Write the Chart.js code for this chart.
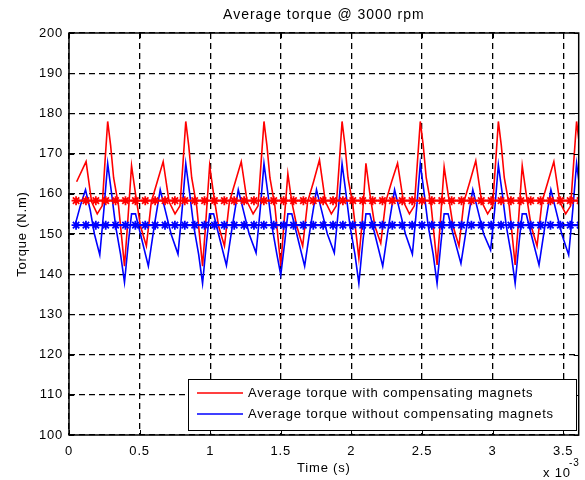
<!DOCTYPE html>
<html lang="en">
<head>
<meta charset="UTF-8">
<title>Average torque @ 3000 rpm</title>
<script src="https://cdn.jsdelivr.net/npm/chart.js"></script>
<style>
  body { margin: 0; background: #fff; }
  canvas { display: block; }
</style>
</head>
<body>
<canvas id="myChart" width="585" height="480"></canvas>
<script>
// time is in ms here, the axis shows it as "x 10^-3" s like the original
const xTicks = [0, 0.5, 1, 1.5, 2, 2.5, 3, 3.5];
const yTicks = [100, 110, 120, 130, 140, 150, 160, 170, 180, 190, 200];
const X_MAX = 3.61;

// torque with compensating magnets (red)
const redT = [0.054, 0.121, 0.160, 0.200, 0.235, 0.255,
  0.274, 0.295, 0.316, 0.351, 0.393, 0.414, 0.443, 0.471, 0.506, 0.548, 0.583, 0.625, 0.667, 0.709, 0.751, 0.786, 0.808,
  0.827, 0.848, 0.869, 0.904, 0.946, 0.967, 0.996, 1.024, 1.059, 1.101, 1.136, 1.178, 1.220, 1.262, 1.304, 1.339, 1.361,
  1.381, 1.402, 1.423, 1.458, 1.500, 1.521, 1.550, 1.578, 1.613, 1.655, 1.690, 1.732, 1.774, 1.816, 1.858, 1.893, 1.915,
  1.934, 1.955, 1.976, 2.011, 2.053, 2.074, 2.103, 2.131, 2.166, 2.208, 2.243, 2.285, 2.327, 2.369, 2.411, 2.446, 2.468,
  2.488, 2.509, 2.530, 2.565, 2.607, 2.628, 2.657, 2.685, 2.720, 2.762, 2.797, 2.839, 2.881, 2.923, 2.965, 3.000, 3.022,
  3.041, 3.062, 3.083, 3.118, 3.160, 3.181, 3.210, 3.238, 3.273, 3.315, 3.350, 3.392, 3.434, 3.476, 3.518, 3.553, 3.575,
  3.595, 3.616];
const redY = [163, 168, 158, 155, 157, 168,
  178, 172, 164, 157, 142, 152, 167, 160, 152, 147, 158, 163, 168, 158, 155, 157, 168,
  178, 172, 164, 157, 142, 152, 167, 160, 152, 147, 158, 163, 168, 158, 155, 157, 168,
  178, 172, 164, 157, 142, 152, 165, 158, 152, 147, 158, 163, 168.4, 158, 155, 157, 168,
  178, 172, 164, 157, 144, 152, 167.6, 160, 152, 147.7, 158, 163, 167.6, 158, 155, 157, 168,
  178, 172, 164, 157, 142.3, 152, 166.7, 160, 152, 147, 158, 163, 168.2, 158, 155, 157, 168,
  178, 172, 164, 157, 142.3, 152, 167, 160, 152, 147, 158, 163, 168, 158, 155, 157, 168,
  178, 172];

// torque without compensating magnets (blue)
const blueT = [0.047, 0.080, 0.117, 0.150, 0.180, 0.218, 0.247,
  0.274, 0.302, 0.330, 0.365, 0.393, 0.421, 0.443, 0.471, 0.506, 0.562, 0.604, 0.646, 0.681, 0.723, 0.772, 0.801,
  0.827, 0.855, 0.883, 0.918, 0.946, 0.974, 0.996, 1.024, 1.059, 1.115, 1.157, 1.199, 1.234, 1.276, 1.325, 1.354,
  1.381, 1.409, 1.437, 1.472, 1.500, 1.528, 1.550, 1.578, 1.613, 1.669, 1.711, 1.753, 1.788, 1.830, 1.879, 1.908,
  1.934, 1.962, 1.990, 2.025, 2.053, 2.081, 2.103, 2.131, 2.166, 2.222, 2.264, 2.306, 2.341, 2.383, 2.432, 2.461,
  2.488, 2.516, 2.544, 2.579, 2.607, 2.635, 2.657, 2.685, 2.720, 2.776, 2.818, 2.860, 2.895, 2.937, 2.986, 3.015,
  3.041, 3.069, 3.097, 3.132, 3.160, 3.188, 3.210, 3.238, 3.273, 3.329, 3.371, 3.413, 3.448, 3.490, 3.539, 3.568,
  3.595, 3.623];
const blueY = [152.7, 157, 161, 156, 150, 144.8, 156,
  167.5, 160, 152, 145, 138, 148, 155, 155, 150, 142, 152, 161, 156, 150, 145, 156,
  167.5, 160, 152, 145, 137.7, 148, 155, 155, 150, 142.2, 152, 161, 156, 150, 145.3, 156,
  167.5, 160, 152, 145, 139.8, 148, 155, 155, 150, 142, 152, 161, 156, 150, 145.3, 156,
  167.5, 160, 152, 145, 137.7, 148, 155, 155, 150, 142, 152, 161, 156, 150, 145, 156,
  167.5, 160, 152, 145, 137.7, 148, 155, 155, 150, 142.7, 152, 161, 156, 150, 146, 156,
  167.2, 160, 152, 145, 137.7, 148, 155, 155, 150, 142.3, 152, 161, 156, 150, 144.8, 156,
  167.5, 160];

// mean values, drawn with markers
const RED_MEAN = 158.3;
const BLUE_MEAN = 152.2;
const markT = [0.05, 0.12, 0.19, 0.26, 0.33, 0.40, 0.47, 0.54, 0.61, 0.68, 0.75, 0.82, 0.89, 0.96,
  1.03, 1.10, 1.17, 1.24, 1.31, 1.38, 1.45, 1.52, 1.59, 1.66, 1.73, 1.80, 1.87, 1.94,
  2.01, 2.08, 2.15, 2.22, 2.29, 2.36, 2.43, 2.50, 2.57, 2.64, 2.71, 2.78, 2.85, 2.92, 2.99,
  3.06, 3.13, 3.20, 3.27, 3.34, 3.41, 3.48, 3.55, 3.62];

const legendLabels = ['Average torque with compensating magnets', 'Average torque without compensating magnets'];

const FONT = "'Liberation Sans', Arial, Helvetica, sans-serif";

function pts(ts, ys) {
  return ts.map((t, i) => ({ x: t, y: ys[i] }));
}

const frame = {
  id: 'frame',
  beforeDraw(chart) {
    chart.ctx.letterSpacing = '0.8px';
  },
  afterDraw(chart) {
    const { ctx, chartArea: a } = chart;
    const x = chart.scales.x, y = chart.scales.y;
    ctx.save();
    ctx.setLineDash([]);
    ctx.strokeStyle = '#000';
    ctx.lineWidth = 1;
    // matlab style inward ticks
    ctx.beginPath();
    x.ticks.forEach(t => {
      const px = Math.round(x.getPixelForValue(t.value)) + 0.5;
      ctx.moveTo(px, a.bottom); ctx.lineTo(px, a.bottom - 5);
      ctx.moveTo(px, a.top); ctx.lineTo(px, a.top + 5);
    });
    y.ticks.forEach(t => {
      const py = Math.round(y.getPixelForValue(t.value)) + 0.5;
      ctx.moveTo(a.left, py); ctx.lineTo(a.left + 5, py);
      ctx.moveTo(a.right, py); ctx.lineTo(a.right - 5, py);
    });
    ctx.stroke();
    ctx.lineWidth = 1.5;
    ctx.strokeRect(a.left, a.top, a.right - a.left, a.bottom - a.top);

    ctx.fillStyle = '#000';
    ctx.letterSpacing = '1px';
    ctx.font = '14px ' + FONT;
    ctx.textAlign = 'center';
    ctx.textBaseline = 'middle';
    ctx.fillText('Average torque @ 3000 rpm', (a.left + a.right) / 2, 15);

    ctx.letterSpacing = '0.8px';
    ctx.font = '13px ' + FONT;
    ctx.fillText('Time (s)', (a.left + a.right) / 2, 468);
    ctx.save();
    ctx.translate(22, (a.top + a.bottom) / 2);
    ctx.rotate(-Math.PI / 2);
    ctx.fillText('Torque (N.m)', 0, 0);
    ctx.restore();

    ctx.textAlign = 'left';
    ctx.fillText('x 10', 543, 473);
    ctx.font = '10px ' + FONT;
    ctx.fillText('-3', 569, 463);

    // legend box
    const bx = 188, by = 379, bw = 388, bh = 51;
    ctx.fillStyle = '#fff';
    ctx.fillRect(bx, by, bw, bh);
    ctx.lineWidth = 1;
    ctx.strokeStyle = '#000';
    ctx.strokeRect(bx + 0.5, by + 0.5, bw, bh);
    const cols = ['#ff0000', '#0000ff'];
    const rows = [393, 414];
    ctx.font = '13px ' + FONT;
    ctx.textBaseline = 'middle';
    legendLabels.forEach((txt, i) => {
      ctx.strokeStyle = cols[i];
      ctx.lineWidth = 1.5;
      ctx.beginPath();
      ctx.moveTo(197, rows[i]);
      ctx.lineTo(243, rows[i]);
      ctx.stroke();
      ctx.fillStyle = '#000';
      ctx.fillText(txt, 248, rows[i]);
    });
    ctx.restore();
  }
};

const ctx = document.getElementById('myChart').getContext('2d');
const myChart = new Chart(ctx, {
  type: 'line',
  data: {
    datasets: [
      {
        label: 'mean with',
        data: markT.map(t => ({ x: t, y: RED_MEAN })),
        borderColor: '#ff0000',
        borderWidth: 2.2,
        pointStyle: 'star',
        pointRadius: 4.5,
        pointBorderWidth: 1.8,
        pointBorderColor: '#ff0000',
        pointBackgroundColor: '#ff0000'
      },
      {
        label: 'mean without',
        data: markT.map(t => ({ x: t, y: BLUE_MEAN })),
        borderColor: '#0000ff',
        borderWidth: 2.2,
        pointStyle: 'star',
        pointRadius: 4.5,
        pointBorderWidth: 1.8,
        pointBorderColor: '#0000ff',
        pointBackgroundColor: '#0000ff'
      },
      {
        label: legendLabels[1],
        data: pts(blueT, blueY),
        borderColor: '#0000ff',
        borderWidth: 1.6,
        pointRadius: 0
      },
      {
        label: legendLabels[0],
        data: pts(redT, redY),
        borderColor: '#ff0000',
        borderWidth: 1.6,
        pointRadius: 0
      }
    ]
  },
  options: {
    responsive: false,
    animation: false,
    events: [],
    clip: 0,
    elements: { line: { tension: 0, fill: false } },
    layout: { padding: { top: 33, right: 3, left: 0, bottom: 0 } },
    plugins: { legend: { display: false }, tooltip: { enabled: false }, title: { display: false } },
    scales: {
      x: {
        type: 'linear',
        min: 0,
        max: X_MAX,
        afterFit: s => { s.height = 45; },
        afterBuildTicks: s => { s.ticks = xTicks.map(v => ({ value: v })); },
        grid: { color: '#000', lineWidth: 1.3, drawTicks: false },
        border: { display: false, dash: [6, 4] },
        ticks: {
          color: '#000',
          padding: 9,
          maxRotation: 0,
          autoSkip: false,
          font: { family: FONT, size: 13 },
          callback: v => String(+v.toFixed(1))
        }
      },
      y: {
        min: 100,
        max: 200,
        afterFit: s => { s.width = 69; },
        afterBuildTicks: s => { s.ticks = yTicks.map(v => ({ value: v })); },
        grid: { color: '#000', lineWidth: 1.3, drawTicks: false },
        border: { display: false, dash: [6, 4] },
        ticks: {
          color: '#000',
          padding: 6,
          autoSkip: false,
          font: { family: FONT, size: 13 }
        }
      }
    }
  },
  plugins: [frame]
});
</script>
</body>
</html>
